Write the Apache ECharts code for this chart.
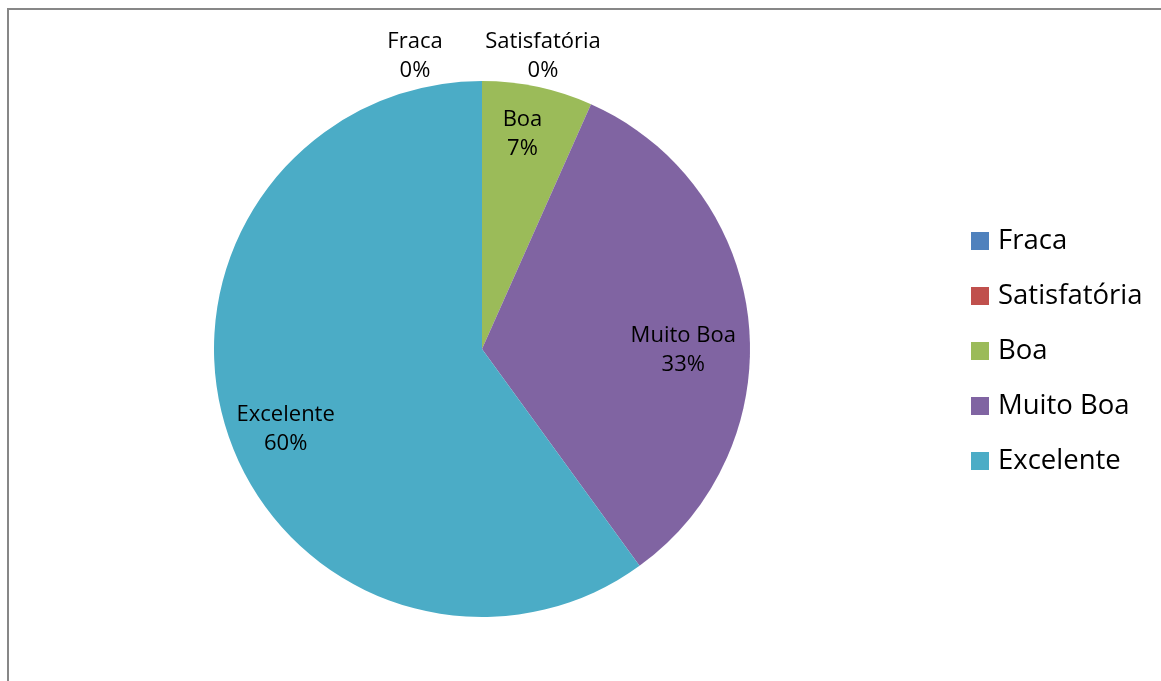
<!DOCTYPE html>
<html>
<head>
<meta charset="utf-8">
<script src="https://cdn.jsdelivr.net/npm/echarts@6/dist/echarts.min.js"></script>
<style>html,body{margin:0;padding:0;background:#fff}#c{width:1161px;height:681px}</style>
</head>
<body>
<div id="c"></div>
<script>
const categories = ['Fraca', 'Satisfatória', 'Boa', 'Muito Boa', 'Excelente'];
const values = [0, 0, 2, 10, 18];
const colors = ['#4F81BD', '#C0504D', '#9BBB59', '#8064A2', '#4BACC6'];
const labelOffsets = [[-67, -156], [61, -156], [12, -81], [65, 16], [-66, 38]];

const chart = echarts.init(document.getElementById('c'));
chart.setOption({
  animation: false,
  color: colors,
  graphic: [{
    type: 'rect', silent: true,
    shape: { x: 8, y: 9, width: 3000, height: 3000 },
    style: { fill: 'none', stroke: '#878787', lineWidth: 2 }
  }],
  legend: {
    orient: 'vertical',
    left: 971,
    top: 226,
    padding: 0,
    itemWidth: 18,
    itemHeight: 18,
    itemGap: 25,
    icon: 'rect',
    data: categories,
    textStyle: { fontFamily: 'Open Sans', fontSize: 27.5, lineHeight: 30, color: '#000', padding: [0, 0, 0, 4] }
  },
  series: [{
    type: 'pie',
    center: [482, 349],
    radius: 268,
    startAngle: 90,
    clockwise: true,
    avoidLabelOverlap: false,
    itemStyle: { borderWidth: 0 },
    label: {
      show: true,
      position: 'inside',
      formatter: p => p.name + '\n' + Math.round(p.percent) + '%',
      fontFamily: 'Open Sans',
      fontSize: 22,
      lineHeight: 29,
      color: '#000'
    },
    labelLine: { show: false },
    labelLayout: p => ({ dx: labelOffsets[p.dataIndex][0], dy: labelOffsets[p.dataIndex][1] }),
    emphasis: { disabled: true },
    data: categories.map((c, i) => ({ name: c, value: values[i] }))
  }]
});
</script>
</body>
</html>
